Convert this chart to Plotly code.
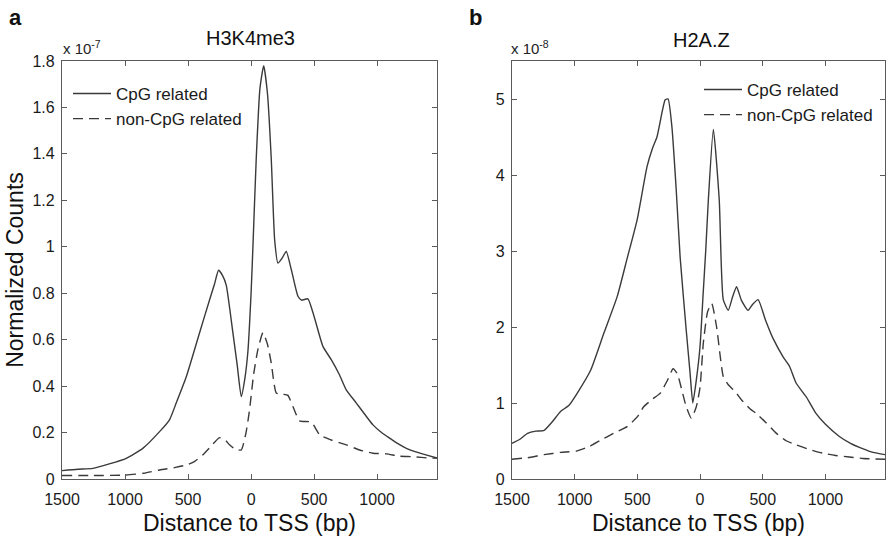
import plotly.graph_objects as go

# ---------------- data (values in units of the axis multiplier) ----------------
# Panel a: H3K4me3 (x 10^-7)
h3_cpg_x = [-1500, -1375, -1255, -1125, -990, -859, -726, -647, -594, -514, -409, -329,
            -290, -258, -225, -197, -144, -110, -78, -50, -25, 0, 14, 41, 70, 100, 130,
            160, 187, 213, 245, 279, 320, 372, 400, 451, 500, 570, 636, 700, 755, 835,
            900, 967, 1035, 1099, 1165, 1232, 1300, 1380, 1475]
h3_cpg_y = [0.036, 0.042, 0.046, 0.065, 0.089, 0.132, 0.204, 0.255, 0.327, 0.44, 0.629, 0.772,
            0.84, 0.899, 0.875, 0.835, 0.629, 0.49, 0.355, 0.43, 0.55, 0.8, 0.99, 1.38, 1.68, 1.78, 1.66,
            1.38, 1.03, 0.93, 0.95, 0.98, 0.9, 0.787, 0.77, 0.776, 0.70, 0.571, 0.514, 0.45, 0.384, 0.327,
            0.28, 0.233, 0.2, 0.176, 0.152, 0.132, 0.118, 0.105, 0.09]
h3_non_x = [-1500, -1250, -990, -850, -726, -600, -514, -450, -382, -320, -250, -200, -171,
            -130, -78, -40, -12, 20, 54, 94, 130, 160, 200, 250, 292, 332, 385, 478, 544,
            636, 755, 861, 967, 1073, 1178, 1284, 1417, 1475]
h3_non_y = [0.015, 0.015, 0.017, 0.025, 0.039, 0.05, 0.06, 0.075, 0.104, 0.14, 0.178, 0.165, 0.147,
            0.13, 0.125, 0.2, 0.298, 0.45, 0.557, 0.63, 0.58, 0.5, 0.37, 0.365, 0.36, 0.312, 0.25, 0.245, 0.19,
            0.168, 0.147, 0.125, 0.111, 0.108, 0.098, 0.096, 0.09, 0.09]

# Panel b: H2A.Z (x 10^-8)
h2_cpg_x = [-1500, -1440, -1376, -1310, -1244, -1180, -1111, -1045, -979, -873, -767, -661,
            -582, -502, -423, -380, -344, -300, -278, -255, -225, -190, -159, -110, -80, -58,
            -30, 0, 25, 45, 66, 106, 153, 185, 225, 260, 291, 330, 383, 420, 463, 520, 582,
            661, 714, 767, 847, 926, 1000, 1111, 1200, 1296, 1380, 1475]
h2_cpg_y = [0.47, 0.52, 0.60, 0.63, 0.64, 0.75, 0.89, 0.97, 1.13, 1.43, 1.92, 2.40,
            2.90, 3.41, 4.11, 4.35, 4.50, 4.85, 4.99, 5.0, 4.64, 3.8, 2.92, 1.95, 1.4, 1.0,
            1.3, 1.75, 2.45, 3.0, 3.67, 4.6, 3.67, 2.36, 2.22, 2.4, 2.53, 2.35, 2.22, 2.3, 2.36, 2.1, 1.85,
            1.61, 1.48, 1.26, 1.08, 0.86, 0.72, 0.56, 0.47, 0.40, 0.35, 0.32]
h2_non_x = [-1500, -1376, -1244, -1110, -979, -880, -794, -690, -582, -500, -450, -380,
            -317, -260, -215, -180, -150, -110, -70, -30, 0, 26, 60, 93, 132, 185, 225, 280,
            331, 400, 450, 520, 609, 690, 767, 870, 979, 1080, 1190, 1300, 1475]
h2_non_y = [0.26, 0.28, 0.32, 0.35, 0.37, 0.43, 0.51, 0.6, 0.69, 0.82, 0.95, 1.05,
            1.13, 1.3, 1.45, 1.38, 1.2, 0.95, 0.80, 0.95, 1.21, 1.79, 2.2, 2.31, 2.0, 1.35, 1.24, 1.15,
            1.04, 0.92, 0.86, 0.75, 0.6, 0.5, 0.45, 0.39, 0.34, 0.31, 0.29, 0.27, 0.26]

x_tickvals = [-1500, -1000, -500, 0, 500, 1000]
x_ticktext = ["1500", "1000", "500", "0", "500", "1000"]
yl_tickvals = [0, 0.2, 0.4, 0.6, 0.8, 1.0, 1.2, 1.4, 1.6, 1.8]
yl_ticktext = ["0", "0.2", "0.4", "0.6", "0.8", "1", "1.2", "1.4", "1.6", "1.8"]
yr_tickvals = [0, 1, 2, 3, 4, 5]
yr_ticktext = ["0", "1", "2", "3", "4", "5"]
series_names = ["CpG related", "non-CpG related"]

# ---------------- figure ----------------
W, H = 886, 538
FONT = "Liberation Sans, Arial, Helvetica, sans-serif"
LINE = "#3a3a3a"
AX = "#5a5a5a"

def px_x(p):
    return p / W

def px_y(p):
    return 1 - p / H

fig = go.Figure()
dash = "10px,6px"
fig.add_trace(go.Scatter(x=h3_cpg_x, y=h3_cpg_y, mode="lines", name=series_names[0],
                         line=dict(color=LINE, width=1.4, shape="spline", smoothing=0.5),
                         xaxis="x", yaxis="y", legend="legend"))
fig.add_trace(go.Scatter(x=h3_non_x, y=h3_non_y, mode="lines", name=series_names[1],
                         line=dict(color=LINE, width=1.4, dash=dash, shape="spline", smoothing=0.5),
                         xaxis="x", yaxis="y", legend="legend"))
fig.add_trace(go.Scatter(x=h2_cpg_x, y=h2_cpg_y, mode="lines", name=series_names[0],
                         line=dict(color=LINE, width=1.4, shape="spline", smoothing=0.5),
                         xaxis="x2", yaxis="y2", legend="legend2"))
fig.add_trace(go.Scatter(x=h2_non_x, y=h2_non_y, mode="lines", name=series_names[1],
                         line=dict(color=LINE, width=1.4, dash=dash, shape="spline", smoothing=0.5),
                         xaxis="x2", yaxis="y2", legend="legend2"))

axis_common = dict(showline=True, linecolor=AX, linewidth=1.2, mirror="ticks",
                   ticks="inside", ticklen=5, tickcolor=AX, tickwidth=1,
                   showgrid=False, zeroline=False, automargin=False,
                   tickfont=dict(family=FONT, size=16, color="#1a1a1a"))

xdom_l = [px_x(62), px_x(437)]
xdom_r = [px_x(512), px_x(885)]
ydom = [px_y(479), px_y(61)]

title_font = dict(family=FONT, size=23, color="#111")
legend_font = dict(family=FONT, size=17, color="#1a1a1a")

fig.update_layout(
    width=W, height=H,
    margin=dict(l=0, r=0, t=0, b=0),
    paper_bgcolor="white", plot_bgcolor="white",
    font=dict(family=FONT, color="#111"),
    xaxis=dict(domain=xdom_l, range=[-1500, 1475], tickvals=x_tickvals, ticktext=x_ticktext,
               anchor="y", ticklabelstandoff=6,
               title=dict(text="Distance to TSS (bp)", font=title_font, standoff=7),
               **axis_common),
    yaxis=dict(domain=ydom, range=[0, 1.8], tickvals=yl_tickvals, ticktext=yl_ticktext,
               anchor="x", ticklabelstandoff=3,
               title=dict(text="Normalized Counts", font=title_font, standoff=2),
               **axis_common),
    xaxis2=dict(domain=xdom_r, range=[-1500, 1475], tickvals=x_tickvals, ticktext=x_ticktext,
                anchor="y2", ticklabelstandoff=6,
                title=dict(text="Distance to TSS (bp)", font=title_font, standoff=7),
                **axis_common),
    yaxis2=dict(domain=ydom, range=[0, 5.5], tickvals=yr_tickvals, ticktext=yr_ticktext,
                anchor="x2", ticklabelstandoff=3, **axis_common),
    legend=dict(x=px_x(68), y=px_y(76), xanchor="left", yanchor="top",
                bgcolor="rgba(0,0,0,0)", borderwidth=0, itemwidth=38,
                tracegroupgap=0, font=legend_font),
    legend2=dict(x=px_x(699), y=px_y(72), xanchor="left", yanchor="top",
                 bgcolor="rgba(0,0,0,0)", borderwidth=0, itemwidth=38,
                 tracegroupgap=0, font=legend_font),
    showlegend=True,
)

annots = [
    dict(text="<b>a</b>", x=px_x(15), y=px_y(17), font=dict(family=FONT, size=22, color="#111")),
    dict(text="<b>b</b>", x=px_x(475), y=px_y(17), font=dict(family=FONT, size=22, color="#111")),
    dict(text="H3K4me3", x=px_x(250), y=px_y(38), font=dict(family=FONT, size=20, color="#111")),
    dict(text="H2A.Z", x=px_x(701), y=px_y(40), font=dict(family=FONT, size=20, color="#111")),
    dict(text="x 10<sup>-7</sup>", x=px_x(82), y=px_y(48), font=dict(family=FONT, size=15, color="#222")),
    dict(text="x 10<sup>-8</sup>", x=px_x(530), y=px_y(48), font=dict(family=FONT, size=15, color="#222")),
]
for a in annots:
    a.update(xref="paper", yref="paper", showarrow=False, xanchor="center", yanchor="middle")
fig.update_layout(annotations=annots)

fig.write_html("out.html")
